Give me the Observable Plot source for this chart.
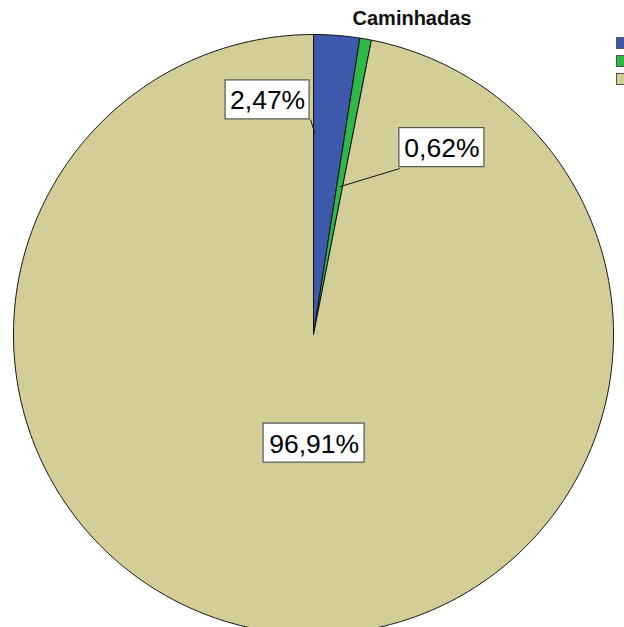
<!DOCTYPE html>
<html>
<head>
<meta charset="utf-8">
<script src="https://cdn.jsdelivr.net/npm/d3@7"></script>
<script src="https://cdn.jsdelivr.net/npm/@observablehq/plot@0.6"></script>
<style>
  html, body { margin: 0; padding: 0; background: #fff; overflow: hidden; }
  body { width: 624px; height: 627px; position: relative; font-family: "Liberation Sans", Arial, sans-serif; }
  #chart { position: absolute; left: 0; top: 0; }
  #title { position: absolute; top: 7px; left: 312px; width: 200px; text-align: center; font-weight: bold; font-size: 20px; color: #111; }
  .sw { position: absolute; left: 616px; width: 13px; height: 12px; border: 1px solid #555; box-sizing: border-box; }
</style>
</head>
<body>
<div id="chart"></div>
<div id="title">Caminhadas</div>
<div id="legend"></div>
<script>
// Data
const categories = ["A", "B", "C"];
const percents = [2.47, 0.62, 96.91];
const labels = ["2,47%", "0,62%", "96,91%"];
const colors = ["#3E58AC", "#2EB848", "#D3CE97"];

// Layout config (unit = pie radius, center at 0,0)
const W = 624, H = 627;
const cx = 313, cy = 334, R = 300;
const labelPos = [[-0.153, 0.782], [0.428, 0.623], [0.002, -0.362]];
const labelHalfW = [42, 42.5, 50.5];
const leader = [{t: 0.05, r: 0.67, from: [-0.01, 0.716]}, {t: 0.5, r: 0.5, from: [0.287, 0.553]}, null];

const total = d3.sum(percents);
let acc = 0;
const slices = percents.map((v, i) => {
  const a0 = acc / total * 2 * Math.PI;
  acc += v;
  const a1 = acc / total * 2 * Math.PI;
  return {cat: categories[i], a0, a1};
});

// Polygon vertices for each slice (arc sampled)
const poly = [];
slices.forEach(s => {
  poly.push({cat: s.cat, x: 0, y: 0});
  const n = Math.max(4, Math.ceil((s.a1 - s.a0) / (Math.PI / 360)));
  for (let k = 0; k <= n; k++) {
    const a = s.a0 + (s.a1 - s.a0) * k / n;
    poly.push({cat: s.cat, x: Math.sin(a), y: Math.cos(a)});
  }
  poly.push({cat: s.cat, x: 0, y: 0});
});

const lab = labels.map((l, i) => ({label: l, x: labelPos[i][0], y: labelPos[i][1], hw: labelHalfW[i] / R}));
const hh = 19.5 / R;

const leaders = [];
leader.forEach((ld, i) => {
  if (!ld) return;
  const s = slices[i];
  const a = s.a0 + (s.a1 - s.a0) * ld.t;
  leaders.push({x1: ld.from[0], y1: ld.from[1], x2: ld.r * Math.sin(a), y2: ld.r * Math.cos(a)});
});

const chart = Plot.plot({
  width: W, height: H,
  margin: 0,
  x: {domain: [-cx / R, (W - cx) / R], axis: null},
  y: {domain: [(cy - H) / R, cy / R], axis: null},
  color: {domain: categories, range: colors},
  marks: [
    Plot.line(poly, {x: "x", y: "y", z: "cat", fill: "cat", stroke: "#111", strokeWidth: 1, strokeLinejoin: "round", curve: "linear"}),
    Plot.link(leaders, {x1: "x1", y1: "y1", x2: "x2", y2: "y2", stroke: "#111", strokeWidth: 1}),
    Plot.rect(lab, {x1: d => d.x - d.hw, x2: d => d.x + d.hw, y1: d => d.y - hh, y2: d => d.y + hh, fill: "#fff", stroke: "#555", strokeWidth: 1.2}),
    Plot.text(lab, {x: "x", y: "y", text: "label", fontSize: 26.5, fill: "#000", fontFamily: "Liberation Sans, Arial, sans-serif", dy: 1})
  ]
});
document.getElementById("chart").appendChild(chart);

// Legend swatches (clipped at right edge, as in the reference)
const legendTops = [37, 55, 73];
const lg = document.getElementById("legend");
colors.forEach((c, i) => {
  const d = document.createElement("div");
  d.className = "sw";
  d.style.top = legendTops[i] + "px";
  d.style.background = c;
  lg.appendChild(d);
});
</script>
</body>
</html>
